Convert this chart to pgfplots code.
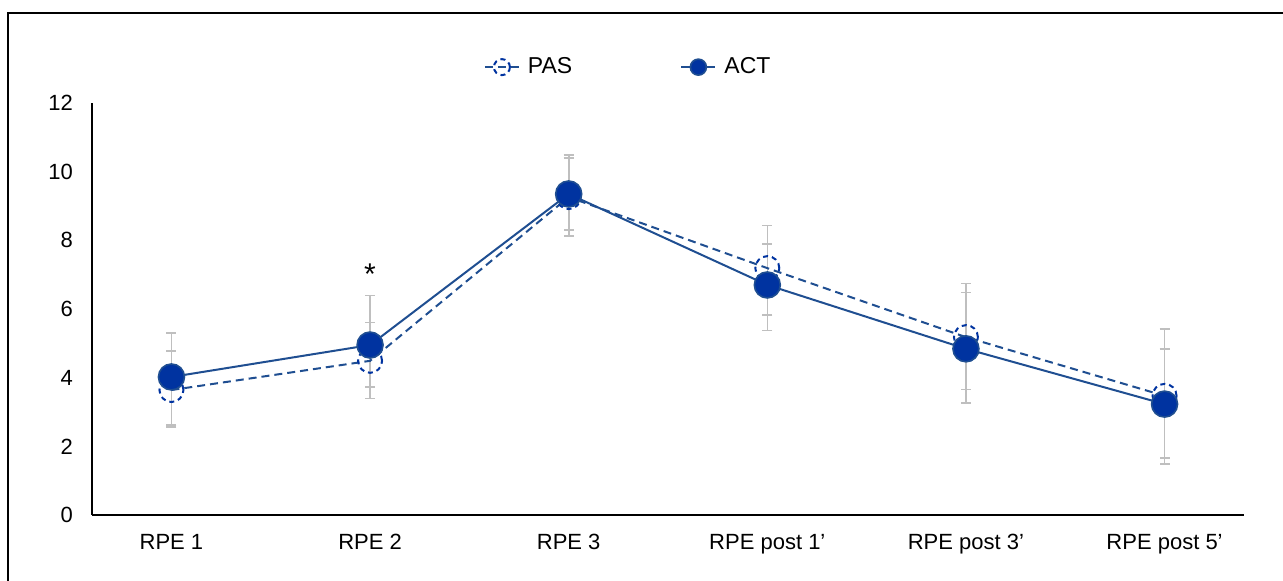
\documentclass[border=0pt]{standalone}
\usepackage{pgfplots}
\pgfplotsset{compat=1.18}
\usepackage{fontspec}
\setmainfont{Liberation Sans}
\definecolor{linec}{RGB}{31,78,145}
\definecolor{markc}{RGB}{0,51,160}
\definecolor{errc}{RGB}{191,191,191}
\begin{document}
\begin{tikzpicture}[x=1pt,y=1pt]
\path[use as bounding box] (0,0) rectangle (641.5,290.5);
\draw[black, line width=0.7pt] (4,-2) -- (4,284) -- (643,284);
\begin{axis}[
  at={(46pt,33pt)}, anchor=south west,
  scale only axis, width=576pt, height=206pt,
  xmin=-0.4, xmax=5.4, ymin=0, ymax=12,
  axis x line*=bottom, axis y line*=left,
  axis line style={black, line width=0.6pt},
  major tick length=0pt,
  ytick={0,2,...,12},
  xtick={0,1,2,3,4,5},
  xticklabels={RPE 1, RPE 2, RPE 3, RPE post 1’, RPE post 3’, RPE post 5’},
  tick label style={font=\fontsize{11}{13}\selectfont},
  /pgf/number format/assume math mode=true,
  yticklabel style={xshift=-6pt},
  xticklabel style={yshift=-6pt},
  legend style={draw=none, fill=none, at={(0.468,1.087)}, anchor=center,
    legend columns=2, font=\fontsize{11.5}{13}\selectfont,
    nodes={inner xsep=4pt},
    /tikz/every even column/.append style={column sep=50pt}},
  legend image post style={mark size=4pt},
]
% error bars
\addplot[forget plot, draw=none, mark=none, error bars/.cd, y dir=both, y explicit,
  error bar style={draw=errc, line width=0.8pt, solid},
  error mark options={draw=errc, mark size=2.5pt, line width=0.8pt, rotate=90, solid}]
  coordinates {
  (0,3.64) += (0,1.14) -= (0,1.08)
  (1,4.49) += (0,1.12) -= (0,1.10)
  (2,9.26) += (0,1.14) -= (0,1.13)
  (3,7.19) += (0,1.24) -= (0,1.36)
  (4,5.18) += (0,1.56) -= (0,1.52)
  (5,3.47) += (0,1.95) -= (0,1.81)
  };
\addplot[forget plot, draw=none, mark=none, error bars/.cd, y dir=both, y explicit,
  error bar style={draw=errc, line width=0.8pt, solid},
  error mark options={draw=errc, mark size=2.5pt, line width=0.8pt, rotate=90, solid}]
  coordinates {
  (0,4.02) += (0,1.28) -= (0,1.40)
  (1,4.95) += (0,1.44) -= (0,1.23)
  (2,9.35) += (0,1.13) -= (0,1.05)
  (3,6.70) += (0,1.20) -= (0,1.33)
  (4,4.84) += (0,1.64) -= (0,1.57)
  (5,3.23) += (0,1.61) -= (0,1.75)
  };
% PAS
\addplot[linec, line width=1pt, dash pattern=on 4pt off 2.5pt,
  mark=o, mark size=6pt,
  mark options={draw=markc, fill=none, line width=1pt, dash pattern=on 2.5pt off 2pt}]
  coordinates {(0,3.64) (1,4.49) (2,9.26) (3,7.19) (4,5.18) (5,3.47)};
\addlegendentry{PAS}
% ACT
\addplot[linec, line width=1pt, mark=*, mark size=6.5pt,
  mark options={fill=markc, draw=linec, line width=0.8pt, solid}]
  coordinates {(0,4.02) (1,4.95) (2,9.35) (3,6.70) (4,4.84) (5,3.23)};
\addlegendentry{ACT}
\node[font=\fontsize{15}{15}\selectfont] at (axis cs:1,7.0) {*};
\end{axis}
\end{tikzpicture}
\end{document}
